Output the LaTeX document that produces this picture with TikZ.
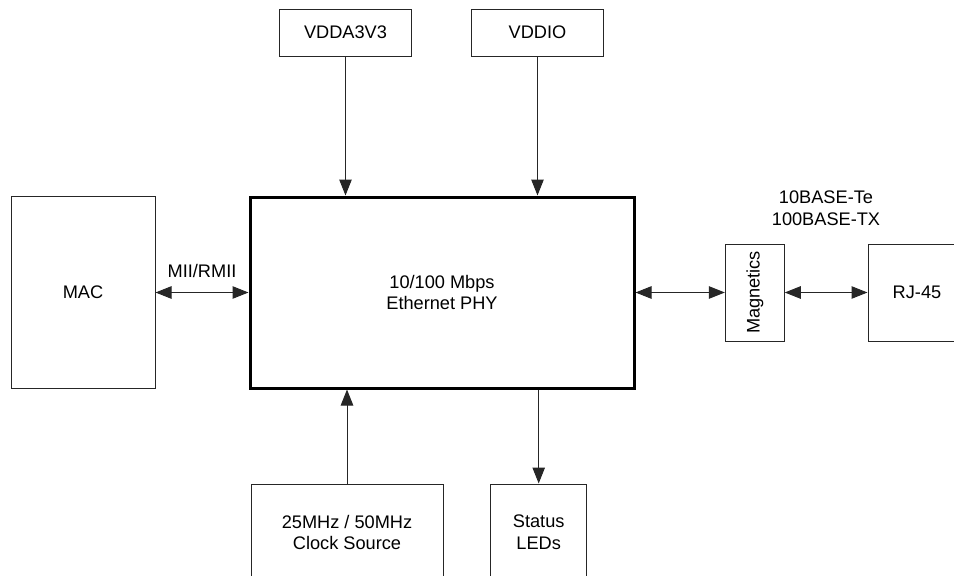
\documentclass[tikz,border=0pt]{standalone}
\usepackage{fontspec}
\setmainfont{Liberation Sans}
\usetikzlibrary{arrows.meta}
\begin{document}
\begin{tikzpicture}[x=1pt,y=-1pt,
  every node/.style={font=\fontsize{18.2}{21.6}\selectfont, text=black},
  blk/.style={draw=black!85, line width=1pt, rectangle, inner sep=0pt, align=center},
  phyblk/.style={draw=black, line width=3pt, rectangle, inner sep=0pt, align=center},
  conn/.style={draw=black!85, line width=1pt},
  tip/.style={-{Triangle[length=16pt,width=12.5pt]}},
  bitip/.style={{Triangle[length=16pt,width=12.5pt]}-{Triangle[length=16pt,width=12.5pt]}},
  lbl/.style={inner sep=0pt, align=center}]
\useasboundingbox (0,0) rectangle (954,576);
\node[blk, minimum width=132pt, minimum height=47pt] (vdda) at (345.5,32.5) {VDDA3V3};
\node[blk, minimum width=132pt, minimum height=47pt] (vddio) at (537.5,32.5) {VDDIO};
\node[phyblk, minimum width=384pt, minimum height=191pt] (phy) at (442,292.5) {10/100 Mbps\\Ethernet PHY};
\node[blk, minimum width=144pt, minimum height=192pt] (mac) at (83,292.5) {MAC};
\node[blk, minimum width=59pt, minimum height=97pt] (mag) at (754.8,292.5) {};
\node[rotate=90, lbl] (magt) at (mag.center) {Magnetics};
\node[blk, minimum width=98pt, minimum height=97pt] (rj) at (917,292.5) {RJ-45};
\node[blk, minimum width=192pt, minimum height=97pt] (clk) at (347,532.5) {25MHz / 50MHz\\Clock Source};
\node[blk, minimum width=96pt, minimum height=97pt] (led) at (538.7,532.5) {Status\\LEDs};
\node[lbl] (mii) at (202,271) {MII/RMII};
\node[lbl] (base) at (826,208.5) {10BASE-Te\\100BASE-TX};
\draw[conn, tip] (vdda.south) -- (vdda.south |- phy.north);
\draw[conn, tip] (vddio.south) -- (vddio.south |- phy.north);
\draw[conn, tip] (clk.north) -- (clk.north |- phy.south);
\draw[conn, tip] (led.north |- phy.south) -- (led.north);
\draw[conn, bitip] (mac.east) -- (phy.west);
\draw[conn, bitip] (phy.east) -- (mag.west);
\draw[conn, bitip] (mag.east) -- (rj.west);
\end{tikzpicture}
\end{document}
